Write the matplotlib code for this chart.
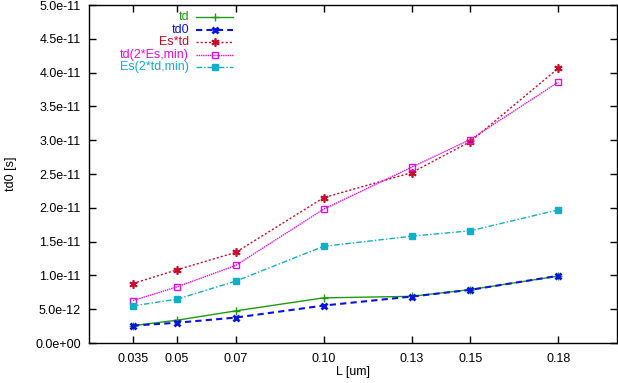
"""Gráfico td0 vs L no estilo gnuplot."""

import matplotlib
matplotlib.use("Agg")
import matplotlib.pyplot as plt
from matplotlib.lines import Line2D
from matplotlib.ticker import FuncFormatter

# dados
L = [0.035, 0.05, 0.07, 0.10, 0.13, 0.15, 0.18]
td = [2.57e-12, 3.37e-12, 4.75e-12, 6.68e-12, 6.9e-12, 7.9e-12, 9.9e-12]
td0 = [2.57e-12, 3.0e-12, 3.76e-12, 5.54e-12, 6.87e-12, 7.86e-12, 9.94e-12]
es_td = [8.8e-12, 1.083e-11, 1.34e-11, 2.15e-11, 2.52e-11, 2.98e-11, 4.065e-11]
td_2es = [6.28e-12, 8.3e-12, 1.147e-11, 1.98e-11, 2.6e-11, 3.01e-11, 3.86e-11]
es_2td = [5.49e-12, 6.48e-12, 9.15e-12, 1.43e-11, 1.58e-11, 1.66e-11, 1.97e-11]

xticks = [0.035, 0.05, 0.07, 0.10, 0.13, 0.15, 0.18]
xticklabels = ["0.035", "0.05", "0.07", "0.10", "0.13", "0.15", "0.18"]

plt.rcParams['font.family'] = ['Liberation Sans', 'DejaVu Sans']
plt.rcParams['font.size'] = 9

W, H = 618, 383
fig = plt.figure(figsize=(W / 100, H / 100), dpi=100)
ax = fig.add_axes([89 / W, 40 / H, 528 / W, 338 / H])

series = [
    (td, 'td', dict(color='#1f9a12', lw=1.0, marker='+', ms=6, mew=1.0)),
    (td0, 'td0', dict(color='#0a14e0', lw=1.5, ls=(0, (3, 2)), marker='x', ms=4.5, mew=2.0)),
    (es_td, 'Es*td', dict(color='#cc0a2c', lw=1.0, ls=(0, (1.5, 1.5)), marker=(6, 2, 0), ms=6, mew=1.2)),
    (td_2es, 'td(2*Es,min)', dict(color='#e010e0', lw=1.0, ls=(0, (1, 0.6)), marker='s', ms=5,
                                  mfc='none', mew=1.0)),
    (es_2td, 'Es(2*td,min)', dict(color='#10b0c8', lw=1.0, ls=(0, (4, 1.5, 1, 1.5)), marker='s', ms=5)),
]

for vals, lab, st in series:
    ax.plot(L, vals, **st)

ax.set_xlim(0.02, 0.2)
ax.set_ylim(0, 5e-11)
ax.set_xticks(xticks)
ax.set_xticklabels(xticklabels)
ax.set_yticks([i * 5e-12 for i in range(11)])
ax.yaxis.set_major_formatter(FuncFormatter(lambda v, p: '%.1e' % v))
ax.tick_params(direction='in', top=True, right=True, length=5, width=1)
ax.tick_params(axis='y', pad=6)
ax.tick_params(axis='x', pad=7)
for s in ax.spines.values():
    s.set_linewidth(1.0)

ax.set_xlabel('L [um]')
ax.set_ylabel('td0 [s]')
ax.xaxis.set_label_coords(0.5, -0.068)
ax.yaxis.set_label_coords(-0.136, 0.5)

# legenda manual, estilo gnuplot (texto à direita, amostra depois)
for i, (vals, lab, st) in enumerate(series):
    y = 1 - (17.3 + 12.5 * i) / H
    fig.text(189 / W, y, lab, color=st['color'], ha='right', va='center', fontsize=9)
    ln = Line2D([196 / W, 214.5 / W, 233 / W], [y, y, y], transform=fig.transFigure,
                markevery=[1], **st)
    fig.add_artist(ln)

plt.savefig('out.png', dpi=100)
plt.close()
